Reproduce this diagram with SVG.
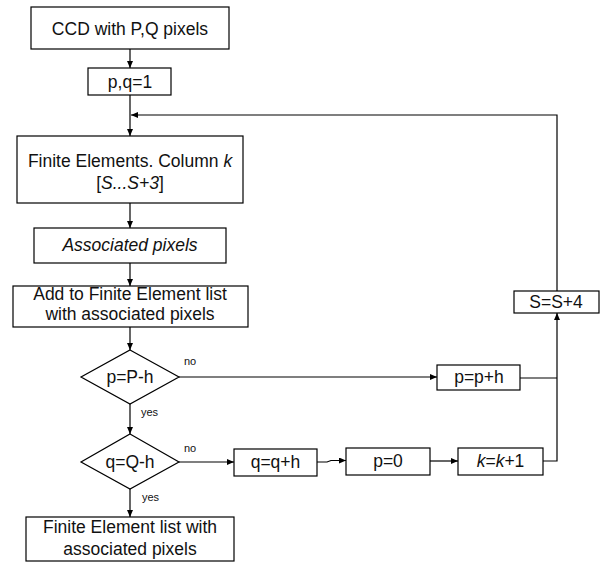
<svg xmlns="http://www.w3.org/2000/svg" width="602" height="562" viewBox="0 0 602 562">
<defs>
<marker id="ah" markerWidth="8" markerHeight="6" refX="7" refY="3" orient="auto" markerUnits="userSpaceOnUse">
<path d="M0,0 L7,3 L0,6 Z" fill="#000"/>
</marker>
<style>
.b{fill:#fff;stroke:#000;stroke-width:1.2}
.t{font-family:"Liberation Sans",Arial,sans-serif;font-size:17.5px;fill:#111;text-anchor:middle}
.i{font-style:italic}
.s{font-family:"Liberation Sans",Arial,sans-serif;font-size:11px;fill:#111}
.c{fill:none;stroke:#000;stroke-width:1.2}
</style>
</defs>
<rect width="602" height="562" fill="#fff"/>
<g id="connectors">
<path class="c" d="M130,49 V68" marker-end="url(#ah)"/>
<path class="c" d="M130,95 V136" marker-end="url(#ah)"/>
<path class="c" d="M130,203 V228" marker-end="url(#ah)"/>
<path class="c" d="M130,263 V286" marker-end="url(#ah)"/>
<path class="c" d="M130,327 V350" marker-end="url(#ah)"/>
<path class="c" d="M130,404 V434" marker-end="url(#ah)"/>
<path class="c" d="M130,489 V517" marker-end="url(#ah)"/>
<path class="c" d="M179,377 H437" marker-end="url(#ah)"/>
<path class="c" d="M179,462 H234" marker-end="url(#ah)"/>
<path class="c" d="M317,462 H327 L331,460.5 H346" marker-end="url(#ah)"/>
<path class="c" d="M430,461 H458" marker-end="url(#ah)"/>
<path class="c" d="M520,378 H557"/>
<path class="c" d="M543,461 H557 V313" marker-end="url(#ah)"/>
<path class="c" d="M557,291 V115 H131" marker-end="url(#ah)"/>
<text class="s" x="184" y="365">no</text>
<text class="s" x="141" y="416">yes</text>
<text class="s" x="184" y="452">no</text>
<text class="s" x="142" y="501">yes</text>
</g>
<g id="ccd">
<rect class="b" x="31" y="7" width="198" height="42"/>
<text class="t" x="130" y="35">CCD with P,Q pixels</text>
</g>
<g id="init">
<rect class="b" x="88" y="68" width="83" height="27"/>
<text class="t" x="130" y="88">p,q=1</text>
</g>
<g id="finite">
<rect class="b" x="17" y="136" width="226" height="67"/>
<text class="t" x="130" y="167">Finite Elements. Column <tspan class="i">k</tspan></text>
<text class="t" x="130" y="189">[<tspan class="i">S...S+3</tspan>]</text>
</g>
<g id="assoc">
<rect class="b" x="34" y="228" width="192" height="35"/>
<text class="t i" x="130" y="251">Associated pixels</text>
</g>
<g id="add">
<rect class="b" x="13" y="286" width="235" height="41"/>
<text class="t" x="130" y="300">Add to Finite Element list</text>
<text class="t" x="130" y="320">with associated pixels</text>
</g>
<g id="d1">
<polygon class="b" points="130,350 179,377 130,404 81,377"/>
<text class="t" x="130" y="383">p=P-h</text>
</g>
<g id="d2">
<polygon class="b" points="130,434 179,462 130,489 81,462"/>
<text class="t" x="130" y="468">q=Q-h</text>
</g>
<g id="final">
<rect class="b" x="26" y="517" width="208" height="44"/>
<text class="t" x="130" y="533">Finite Element list with</text>
<text class="t" x="130" y="555">associated pixels</text>
</g>
<g id="pph">
<rect class="b" x="437" y="365" width="83" height="25"/>
<text class="t" x="479" y="383">p=p+h</text>
</g>
<g id="qqh">
<rect class="b" x="234" y="449" width="83" height="27"/>
<text class="t" x="275.5" y="468">q=q+h</text>
</g>
<g id="p0">
<rect class="b" x="346" y="448" width="84" height="27"/>
<text class="t" x="388" y="467">p=0</text>
</g>
<g id="kk1">
<rect class="b" x="458" y="448" width="85" height="27"/>
<text class="t" x="500.5" y="467"><tspan class="i">k</tspan>=<tspan class="i">k</tspan>+1</text>
</g>
<g id="ss4">
<rect class="b" x="514" y="291" width="85" height="22"/>
<text class="t" x="556" y="308">S=S+4</text>
</g>
</svg>
